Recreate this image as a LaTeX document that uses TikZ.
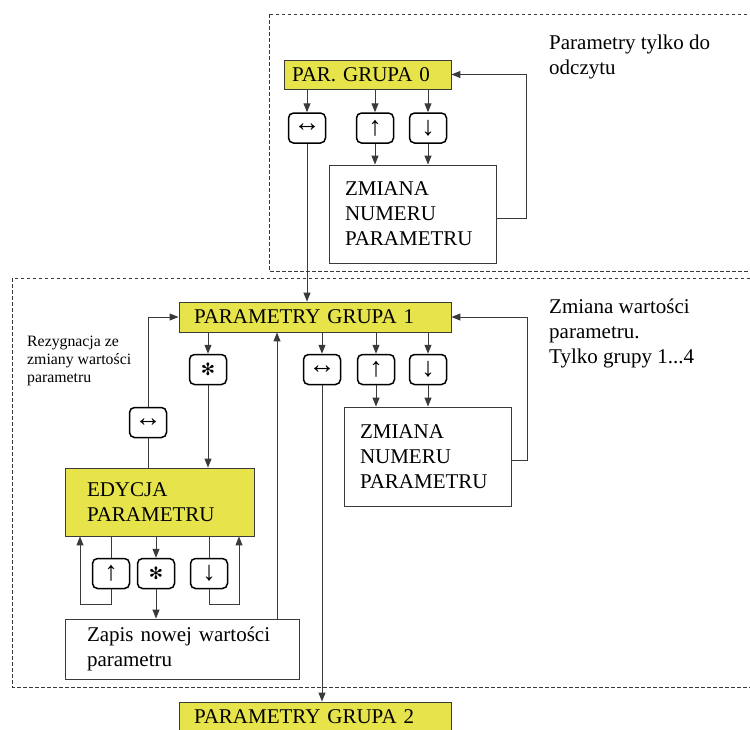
\documentclass[tikz,border=0pt]{standalone}
\usepackage{fontspec}
\setmainfont{Liberation Serif}
\newfontfamily\symfont{DejaVu Sans}
\usetikzlibrary{arrows.meta}
\definecolor{boxyellow}{HTML}{E6E34B}
\definecolor{linegray}{HTML}{3A3A3A}
\begin{document}
\begin{tikzpicture}[x=1pt,y=-1pt,
  every node/.style={font=\fontsize{21}{25}\selectfont},
  conn/.style={draw=linegray, line width=1pt},
  arr/.style={conn, -{Triangle[length=9pt,width=7pt]}},
  frame/.style={draw=linegray, line width=0.8pt, dash pattern=on 3.5pt off 2.5pt},
  panel/.style={draw=linegray, line width=0.9pt, align=left, inner ysep=0pt},
  ybox/.style={panel, fill=boxyellow},
  wbox/.style={panel, fill=white},
  keybtn/.style={draw=black, line width=1.5pt, rounded corners=5pt, fill=white,
    minimum width=37pt, minimum height=30pt, inner sep=0pt,
    font=\fontsize{27}{30}\selectfont},
  starbtn/.style={keybtn, font=\fontsize{17}{20}\symfont\bfseries},
  note/.style={anchor=north west, align=left, inner sep=0pt},
  smallnote/.style={note, font=\fontsize{15.8}{18.3}\selectfont}
]
\useasboundingbox (0,0) rectangle (750,729);

% dashed frames
\draw[frame] (269,14) rectangle (770,271);
\draw[frame] (12,278) rectangle (770,687);

% group 0
\node[ybox, minimum width=167pt, minimum height=29pt, text width=151pt, inner xsep=8pt] (pg0) at (367.5,74.5) {PAR. GRUPA 0};
\node[keybtn] (b0lr) at (307,128) {↔};
\node[keybtn] (b0up) at (375,128) {↑};
\node[keybtn] (b0dn) at (428,128) {↓};
\node[wbox, minimum width=167pt, minimum height=98pt, text width=135pt, inner xsep=16pt] (z0) at (412.5,214) {ZMIANA\\NUMERU\\PARAMETRU};
\node[note] (t0) at (549,35) {Parametry tylko do\\odczytu};

% group 1
\node[ybox, minimum width=272pt, minimum height=30pt, text width=242pt, inner xsep=15pt] (pg1) at (315,317) {PARAMETRY GRUPA 1};
\node[starbtn] (b1st) at (208,369.5) {✻};
\node[keybtn] (b1lr) at (322,369.5) {↔};
\node[keybtn] (b1up) at (376,369.5) {↑};
\node[keybtn] (b1dn) at (428,369.5) {↓};
\node[wbox, minimum width=167pt, minimum height=99pt, text width=135pt, inner xsep=16pt] (z1) at (427.5,456.5) {ZMIANA\\NUMERU\\PARAMETRU};
\node[note] (t1) at (549,299) {Zmiana wartości\\parametru.\\Tylko grupy 1...4};
\node[smallnote] (t2) at (27,335.5) {Rezygnacja ze\\zmiany wartości\\parametru};

\node[keybtn] (blr2) at (148,422.5) {↔};
\node[ybox, minimum width=189pt, minimum height=68pt, text width=145pt, inner xsep=22pt] (ed) at (159.5,502) {EDYCJA\\PARAMETRU};
\node[keybtn] (b2up) at (111,573.5) {↑};
\node[starbtn] (b2st) at (156,573.5) {✻};
\node[keybtn] (b2dn) at (209,573.5) {↓};
\node[wbox, minimum width=234pt, minimum height=60pt, text width=190pt, inner xsep=22pt] (zp) at (182,649) {Zapis nowej wartości\\parametru};

% group 2
\node[ybox, minimum width=272pt, minimum height=30pt, text width=242pt, inner xsep=15pt] (pg2) at (315,717) {PARAMETRY GRUPA 2};

% helper coordinates
\coordinate (r0) at (526,218);
\coordinate (r1) at (527,460);
\coordinate (cz) at (277,0);
\coordinate (l1) at (80,604);
\coordinate (l2) at (239,604);

% connectors group 0
\draw[arr] (pg0.south -| b0lr) -- (b0lr.north);
\draw[arr] (pg0.south -| b0up) -- (b0up.north);
\draw[arr] (pg0.south -| b0dn) -- (b0dn.north);
\draw[arr] (b0up.south) -- (z0.north -| b0up);
\draw[arr] (b0dn.south) -- (z0.north -| b0dn);
\draw[arr] (z0.east |- r0) -- (r0) -- (r0 |- pg0.east) -- (pg0.east);
\draw[arr] (b0lr.south) -- (pg1.north -| b0lr);

% connectors group 1
\draw[arr] (pg1.south -| b1st) -- (b1st.north);
\draw[arr] (pg1.south -| b1lr) -- (b1lr.north);
\draw[arr] (pg1.south -| b1up) -- (b1up.north);
\draw[arr] (pg1.south -| b1dn) -- (b1dn.north);
\draw[arr] (b1up.south) -- (z1.north -| b1up);
\draw[arr] (b1dn.south) -- (z1.north -| b1dn);
\draw[arr] (z1.east |- r1) -- (r1) -- (r1 |- pg1.east) -- (pg1.east);
\draw[arr] (b1st.south) -- (ed.north -| b1st);
\draw[conn] (ed.north -| blr2) -- (blr2.south);
\draw[arr] (blr2.north) |- (pg1.west);
\draw[arr] (zp.north -| cz) -- (pg1.south -| cz);
\draw[arr] (b1lr.south) -- (pg2.north -| b1lr);

% edit loops
\draw[conn] (ed.south -| b2up) -- (b2up.north);
\draw[arr] (b2up.south) |- (l1) -- (l1 |- ed.south);
\draw[arr] (ed.south -| b2st) -- (b2st.north);
\draw[arr] (b2st.south) -- (zp.north -| b2st);
\draw[conn] (ed.south -| b2dn) -- (b2dn.north);
\draw[arr] (b2dn.south) |- (l2) -- (l2 |- ed.south);
\end{tikzpicture}
\end{document}
